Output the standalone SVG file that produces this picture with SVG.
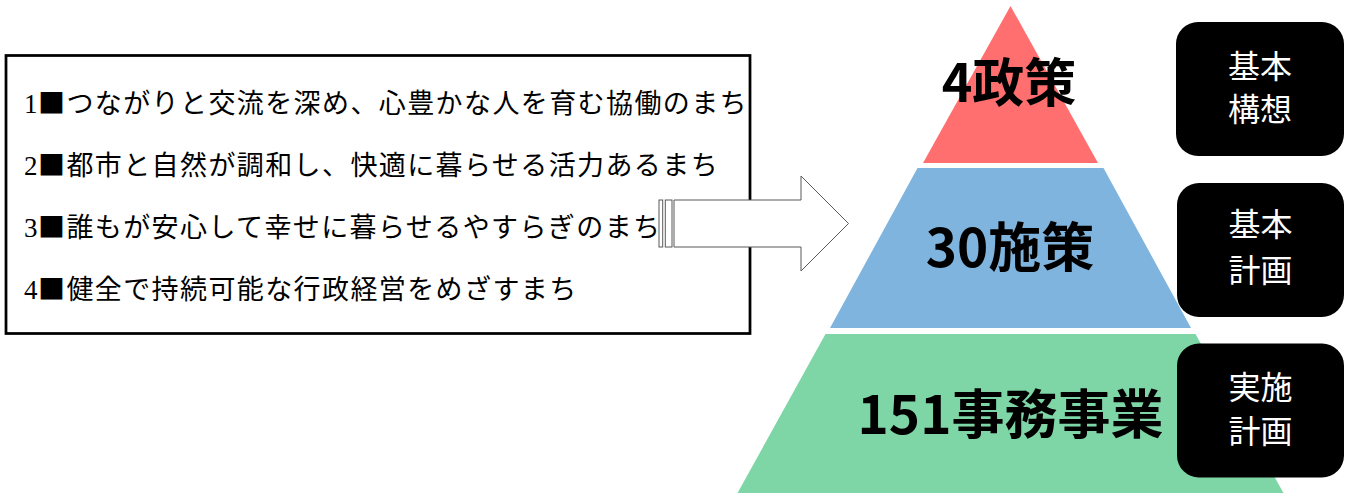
<svg xmlns="http://www.w3.org/2000/svg" width="1348" height="493" viewBox="0 0 1348 493">
<style>
.goal{font-family:"Noto Sans CJK JP","Noto Sans CJK SC",sans-serif;font-size:27px;letter-spacing:1.4px;fill:#000}
.num{font-family:"Liberation Serif",serif;letter-spacing:0}
.lvl{font-family:"Noto Sans CJK JP","Noto Sans CJK SC",sans-serif;font-weight:700;fill:#000;text-anchor:middle}
.tag{fill:#000}
.tagt{font-family:"Noto Sans CJK JP","Noto Sans CJK SC",sans-serif;font-size:32px;fill:#fff;text-anchor:middle}
.arr{fill:#fff;stroke:#595959;stroke-width:1}
</style>
<rect width="1348" height="493" fill="#fff"/>
<g id="goals">
<rect x="6" y="55.5" width="744" height="278" fill="#fff" stroke="#000" stroke-width="2.75"/>
<text class="goal" y="112.5"><tspan class="num" x="24">1</tspan><tspan x="38">■つながりと交流を深め、心豊かな人を育む協働のまち</tspan></text>
<text class="goal" y="174.5"><tspan class="num" x="24">2</tspan><tspan x="38">■都市と自然が調和し、快適に暮らせる活力あるまち</tspan></text>
<text class="goal" y="236.5"><tspan class="num" x="24">3</tspan><tspan x="38">■誰もが安心して幸せに暮らせるやすらぎのまち</tspan></text>
<text class="goal" y="298.5"><tspan class="num" x="24">4</tspan><tspan x="38">■健全で持続可能な行政経営をめざすまち</tspan></text>
</g>
<g id="connectors">
<rect class="arr" x="659" y="200" width="3.7" height="47"/>
<rect class="arr" x="665.3" y="200" width="6.7" height="47"/>
<polygon class="arr" points="674,200 801,200 801,176 848.5,223.5 801,271 801,247 674,247"/>
</g>
<g id="level-policy">
<polygon points="1010.5,6 923,163 1098,163" fill="#FF6F6F"/>
<text class="lvl" x="1009" y="102" font-size="52">4政策</text>
</g>
<g id="level-measure">
<polygon points="917.5,168 1103.5,168 1191,328 830,328" fill="#7EB4DD"/>
<text class="lvl" x="1010" y="267" font-size="53">30施策</text>
</g>
<g id="level-project">
<polygon points="825.5,334 1195.5,334 1284,494 737,494" fill="#7ED6A6"/>
<text class="lvl" x="1010.5" y="433.5" font-size="53">151事務事業</text>
</g>
<g id="tag-vision">
<rect class="tag" x="1176" y="22" width="168" height="134" rx="22"/>
<text class="tagt" x="1260" y="77.5">基本</text>
<text class="tagt" x="1260" y="120.5">構想</text>
</g>
<g id="tag-plan">
<rect class="tag" x="1177" y="183" width="167" height="134" rx="22"/>
<text class="tagt" x="1260.5" y="235.5">基本</text>
<text class="tagt" x="1260.5" y="281.5">計画</text>
</g>
<g id="tag-action">
<rect class="tag" x="1177" y="343.5" width="167" height="134" rx="22"/>
<text class="tagt" x="1260.5" y="398.5">実施</text>
<text class="tagt" x="1260.5" y="442.5">計画</text>
</g>
</svg>
